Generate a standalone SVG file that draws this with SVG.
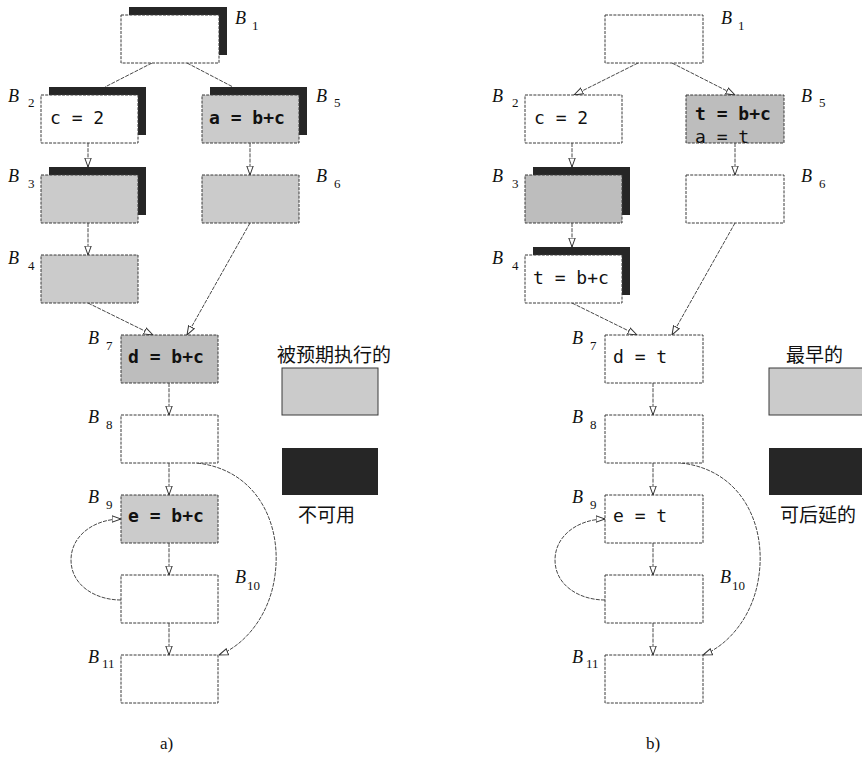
<svg xmlns="http://www.w3.org/2000/svg" width="862" height="757" viewBox="0 0 862 757">
<defs>
<style>
.box{fill:#fff;stroke:#3a3a3a;stroke-width:1;stroke-dasharray:3 1.2}
.g{fill:#cbcbcb}
.g2{fill:#bdbdbd}
.sh{fill:#262626;stroke:none}
.e{fill:none;stroke:#333;stroke-width:0.9;stroke-dasharray:4 1.2}
.ea{marker-end:url(#ah)}
.code{font-family:"DejaVu Sans Mono","Liberation Mono",monospace;font-size:18px;fill:#111}
.b{font-weight:bold}
.lb{font-family:"Liberation Serif",serif;font-style:italic;font-size:18px;fill:#111}
.sub{font-family:"Liberation Serif",serif;font-size:13px;fill:#111}
.cj{font-family:"Noto Sans CJK SC",sans-serif;font-size:19px;fill:#111}
.cap{font-family:"Liberation Serif",serif;font-size:17px;fill:#111}
</style>
<marker id="ah" viewBox="0 0 10 8" refX="9.5" refY="4" markerWidth="10" markerHeight="8" markerUnits="userSpaceOnUse" orient="auto">
<path d="M0.5,0.8 L9.5,4 L0.5,7.2 Z" fill="#fff" stroke="#333" stroke-width="1"/>
</marker>
<clipPath id="c5r"><rect x="686" y="95" width="98" height="48"/></clipPath>
</defs>

<g id="connectors">
<!-- a) -->
<line class="e" x1="152" y1="63" x2="105" y2="87"/>
<line class="e" x1="187" y1="63" x2="233" y2="87"/>
<line class="e ea" x1="88" y1="143" x2="88" y2="167"/>
<line class="e ea" x1="250" y1="143" x2="250" y2="175"/>
<line class="e ea" x1="88" y1="223" x2="88" y2="255"/>
<line class="e ea" x1="88" y1="303" x2="153" y2="335"/>
<line class="e ea" x1="250" y1="223" x2="187" y2="335"/>
<line class="e ea" x1="169" y1="383" x2="169" y2="415"/>
<line class="e ea" x1="169" y1="463" x2="169" y2="495"/>
<line class="e ea" x1="169" y1="543" x2="169" y2="575"/>
<line class="e ea" x1="169" y1="623" x2="169" y2="655"/>
<path class="e ea" d="M197,463 C258,470 282,525 275,575 C270,615 245,645 219,655"/>
<path class="e ea" d="M121,600 C95,600 71,585 71,560 C71,535 95,519 121,519"/>
<!-- b) -->
<line class="e ea" x1="638" y1="63" x2="574" y2="95"/>
<line class="e ea" x1="672" y1="63" x2="735" y2="95"/>
<line class="e ea" x1="572" y1="143" x2="572" y2="167"/>
<line class="e ea" x1="735" y1="143" x2="735" y2="175"/>
<line class="e ea" x1="572" y1="223" x2="572" y2="247"/>
<line class="e ea" x1="572" y1="303" x2="637" y2="335"/>
<line class="e ea" x1="735" y1="223" x2="672" y2="335"/>
<line class="e ea" x1="653" y1="383" x2="653" y2="415"/>
<line class="e ea" x1="653" y1="463" x2="653" y2="495"/>
<line class="e ea" x1="653" y1="543" x2="653" y2="575"/>
<line class="e ea" x1="653" y1="623" x2="653" y2="655"/>
<path class="e ea" d="M681,463 C742,470 766,525 759,575 C754,615 729,645 703,655"/>
<path class="e ea" d="M605,600 C579,600 555,585 555,560 C555,535 579,519 605,519"/>
</g>

<!-- a) nodes -->
<g id="a-B1">
<rect class="sh" x="129" y="7" width="98" height="48"/>
<rect class="box" x="121" y="15" width="98" height="48"/>
<text class="lb" x="235" y="24">B</text><text class="sub" x="252" y="30">1</text>
</g>
<g id="a-B2">
<rect class="sh" x="49" y="87" width="97" height="48"/>
<rect class="box" x="41" y="95" width="97" height="48"/>
<text class="code" x="50" y="124">c = 2</text>
<text class="lb" x="8" y="102">B</text><text class="sub" x="28" y="107">2</text>
</g>
<g id="a-B5">
<rect class="sh" x="210" y="87" width="97" height="48"/>
<rect class="box g" x="202" y="95" width="97" height="48"/>
<text class="code b" x="209" y="124">a = b+c</text>
<text class="lb" x="316" y="102">B</text><text class="sub" x="334" y="107">5</text>
</g>
<g id="a-B3">
<rect class="sh" x="49" y="167" width="97" height="48"/>
<rect class="box g" x="41" y="175" width="97" height="48"/>
<text class="lb" x="8" y="182">B</text><text class="sub" x="28" y="188">3</text>
</g>
<g id="a-B6">
<rect class="box g" x="202" y="175" width="97" height="48"/>
<text class="lb" x="316" y="182">B</text><text class="sub" x="334" y="188">6</text>
</g>
<g id="a-B4">
<rect class="box g" x="41" y="255" width="97" height="48"/>
<text class="lb" x="8" y="264">B</text><text class="sub" x="28" y="270">4</text>
</g>
<g id="a-B7">
<rect class="box g2" x="121" y="335" width="97" height="48"/>
<text class="code b" x="128" y="363">d = b+c</text>
<text class="lb" x="88" y="344">B</text><text class="sub" x="106" y="350">7</text>
</g>
<g id="a-B8">
<rect class="box" x="121" y="415" width="97" height="48"/>
<text class="lb" x="88" y="423">B</text><text class="sub" x="106" y="429">8</text>
</g>
<g id="a-B9">
<rect class="box g" x="121" y="495" width="97" height="48"/>
<text class="code b" x="128" y="522">e = b+c</text>
<text class="lb" x="88" y="503">B</text><text class="sub" x="106" y="509">9</text>
</g>
<g id="a-B10">
<rect class="box" x="121" y="575" width="97" height="48"/>
<text class="lb" x="235" y="583">B</text><text class="sub" x="247" y="590">10</text>
</g>
<g id="a-B11">
<rect class="box" x="121" y="655" width="97" height="48"/>
<text class="lb" x="88" y="663">B</text><text class="sub" x="102" y="668">11</text>
</g>
<g id="a-legend">
<text class="cj" x="277" y="362">被预期执行的</text>
<rect class="box g" x="282" y="368" width="96" height="47" style="stroke-dasharray:none"/>
<rect class="sh" x="282" y="448" width="96" height="47"/>
<text class="cj" x="298" y="522">不可用</text>
</g>
<text class="cap" x="160" y="749">a)</text>

<!-- b) nodes -->
<g id="b-B1">
<rect class="box" x="605" y="15" width="98" height="48"/>
<text class="lb" x="721" y="24">B</text><text class="sub" x="738" y="30">1</text>
</g>
<g id="b-B2">
<rect class="box" x="525" y="95" width="97" height="48"/>
<text class="code" x="534" y="124">c = 2</text>
<text class="lb" x="492" y="102">B</text><text class="sub" x="512" y="107">2</text>
</g>
<g id="b-B5">
<rect class="box g2" x="686" y="95" width="98" height="48"/>
<g clip-path="url(#c5r)">
<text class="code b" x="695" y="120">t = b+c</text>
<text class="code" x="695" y="143">a = t</text>
</g>
<text class="lb" x="801" y="102">B</text><text class="sub" x="819" y="107">5</text>
</g>
<g id="b-B3">
<rect class="sh" x="533" y="167" width="97" height="48"/>
<rect class="box g2" x="525" y="175" width="97" height="48"/>
<text class="lb" x="492" y="182">B</text><text class="sub" x="512" y="188">3</text>
</g>
<g id="b-B6">
<rect class="box" x="686" y="175" width="98" height="48"/>
<text class="lb" x="801" y="182">B</text><text class="sub" x="819" y="188">6</text>
</g>
<g id="b-B4">
<rect class="sh" x="533" y="247" width="97" height="48"/>
<rect class="box" x="525" y="255" width="97" height="48"/>
<text class="code" x="533" y="284">t = b+c</text>
<text class="lb" x="492" y="264">B</text><text class="sub" x="512" y="270">4</text>
</g>
<g id="b-B7">
<rect class="box" x="605" y="335" width="98" height="48"/>
<text class="code" x="613" y="363">d = t</text>
<text class="lb" x="572" y="344">B</text><text class="sub" x="590" y="350">7</text>
</g>
<g id="b-B8">
<rect class="box" x="605" y="415" width="98" height="48"/>
<text class="lb" x="572" y="423">B</text><text class="sub" x="590" y="429">8</text>
</g>
<g id="b-B9">
<rect class="box" x="605" y="495" width="98" height="48"/>
<text class="code" x="613" y="522">e = t</text>
<text class="lb" x="572" y="503">B</text><text class="sub" x="590" y="509">9</text>
</g>
<g id="b-B10">
<rect class="box" x="605" y="575" width="98" height="48"/>
<text class="lb" x="720" y="583">B</text><text class="sub" x="732" y="590">10</text>
</g>
<g id="b-B11">
<rect class="box" x="605" y="655" width="98" height="48"/>
<text class="lb" x="572" y="663">B</text><text class="sub" x="586" y="668">11</text>
</g>
<g id="b-legend">
<text class="cj" x="786" y="362">最早的</text>
<rect class="box g" x="769" y="368" width="100" height="47" style="stroke-dasharray:none"/>
<rect class="sh" x="769" y="448" width="100" height="47"/>
<text class="cj" x="780" y="522">可后延的</text>
</g>
<text class="cap" x="646" y="749">b)</text>
</svg>
